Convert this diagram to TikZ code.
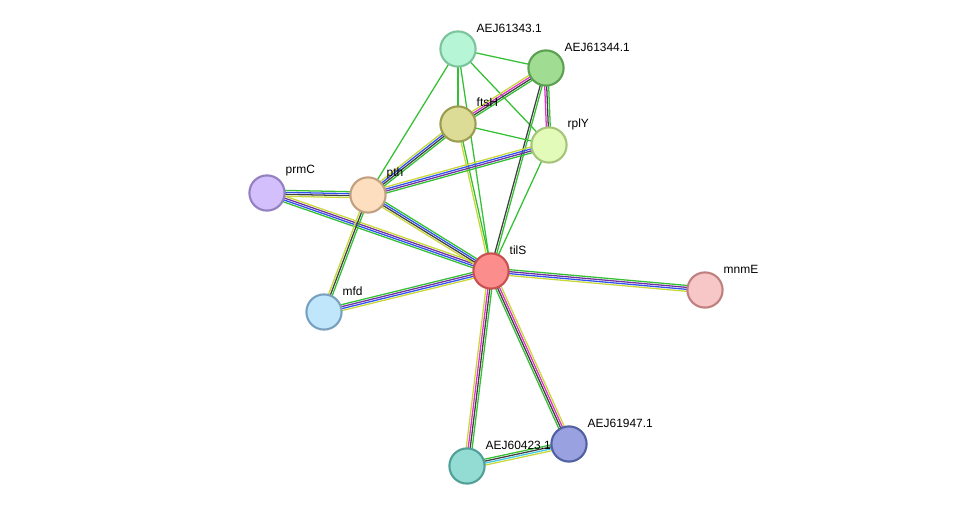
\documentclass[tikz,border=0pt]{standalone}
\usepackage{fontspec}
\setmainfont{Liberation Sans}
\usetikzlibrary{calc,backgrounds}
\definecolor{sgreen}{HTML}{33C033}
\definecolor{syellow}{HTML}{C8D838}
\definecolor{sblue}{HTML}{3050F0}
\definecolor{spurple}{HTML}{7030A0}
\definecolor{smag}{HTML}{E030D0}
\definecolor{sdark}{HTML}{404040}
\definecolor{scyan}{HTML}{40C8E8}
% fill / border of the proteins
\definecolor{f43}{HTML}{B6F5D5}\definecolor{b43}{HTML}{7CC49B}
\definecolor{f44}{HTML}{A0DD93}\definecolor{b44}{HTML}{5AA050}
\definecolor{fftsH}{HTML}{DCDC96}\definecolor{bftsH}{HTML}{9C9C50}
\definecolor{frplY}{HTML}{E3FBB8}\definecolor{brplY}{HTML}{A6C37A}
\definecolor{fprmC}{HTML}{D2BFFB}\definecolor{bprmC}{HTML}{9280C0}
\definecolor{fpth}{HTML}{FDDFC0}\definecolor{bpth}{HTML}{C0A080}
\definecolor{ftilS}{HTML}{FC8D8D}\definecolor{btilS}{HTML}{C85050}
\definecolor{fmnmE}{HTML}{F6C7C6}\definecolor{bmnmE}{HTML}{C08080}
\definecolor{fmfd}{HTML}{BFE6FB}\definecolor{bmfd}{HTML}{7AA0C0}
\definecolor{f947}{HTML}{99A1E0}\definecolor{b947}{HTML}{5060A0}
\definecolor{f423}{HTML}{93DCD3}\definecolor{b423}{HTML}{50A098}
\tikzset{
  prot/.style={circle, draw=b#1, fill=f#1, line width=1.5pt, minimum size=0.88cm, inner sep=0pt},
  lbl/.style={font=\fontsize{8.5}{10}\selectfont, inner sep=1pt}
}
% several parallel lines between two nodes
\newcommand\lnk[4]{%
  \foreach[count=\i] \c in {#4}{%
    \pgfmathsetmacro\off{(\i-(#3+1)/2)*1.4}
    \draw[\c, line width=0.9pt] ($(#1)!\off pt!90:(#2)$) -- ($(#2)!\off pt!-90:(#1)$);
  }}
\begin{document}
\begin{tikzpicture}[x=0.025cm, y=-0.025cm]
    \useasboundingbox (0,0) rectangle (976,512);
    % proteins
    \node[prot=43] (a43) at (458,49) {};
    \node[prot=44] (a44) at (546,68) {};
    \node[prot=ftsH] (ftsH) at (458,124) {};
    \node[prot=rplY] (rplY) at (549,145) {};
    \node[prot=prmC] (prmC) at (267,193) {};
    \node[prot=pth] (pth) at (368,195) {};
    \node[prot=tilS] (tilS) at (491,271) {};
    \node[prot=mnmE] (mnmE) at (705,290) {};
    \node[prot=mfd] (mfd) at (324,312) {};
    \node[prot=947] (a947) at (569,444) {};
    \node[prot=423] (a423) at (467,466) {};

    % labels
    \node[lbl, anchor=west] (t43) at (475,28) {AEJ61343.1};
    \node[lbl, anchor=west] (t44) at (563,47) {AEJ61344.1};
    \node[lbl, anchor=west] (tftsH) at (475,102) {ftsH};
    \node[lbl, anchor=west] (trplY) at (566,124) {rplY};
    \node[lbl, anchor=west] (tprmC) at (284,171) {prmC};
    \node[lbl, anchor=west] (tpth) at (385,173) {pth};
    \node[lbl, anchor=west] (ttilS) at (508,250) {tilS};
    \node[lbl, anchor=west] (tmnmE) at (722,269) {mnmE};
    \node[lbl, anchor=west] (tmfd) at (341,291) {mfd};
    \node[lbl, anchor=west] (t947) at (586,423) {AEJ61947.1};
    \node[lbl, anchor=west] (t423) at (484,445) {AEJ60423.1};

    % interactions
    \begin{pgfonlayer}{background}
    \lnk{a43}{a44}{1}{sgreen}
    \lnk{a43}{ftsH}{1}{sgreen}
    \lnk{a43}{rplY}{1}{sgreen}
    \lnk{a43}{pth}{1}{sgreen}
    \lnk{a43}{tilS}{1}{sgreen}
    \lnk{a44}{ftsH}{4}{syellow,smag,sdark,sgreen}
    \lnk{a44}{rplY}{3}{smag,sdark,sgreen}
    \lnk{a44}{tilS}{2}{sdark,sgreen}
    \lnk{ftsH}{rplY}{1}{sgreen}
    \lnk{ftsH}{pth}{4}{syellow,sblue,sdark,sgreen}
    \lnk{ftsH}{tilS}{2}{syellow,sgreen}
    \lnk{rplY}{pth}{4}{syellow,sblue,spurple,sgreen}
    \lnk{rplY}{tilS}{1}{sgreen}
    \lnk{prmC}{pth}{4}{syellow,sdark,sblue,sgreen}
    \lnk{prmC}{tilS}{4}{sgreen,sblue,spurple,syellow}
    \lnk{pth}{tilS}{4}{syellow,sdark,sblue,sgreen}
    \lnk{pth}{mfd}{3}{syellow,sdark,sgreen}
    \lnk{mfd}{tilS}{4}{syellow,sblue,spurple,sgreen}
    \lnk{tilS}{mnmE}{4}{syellow,sblue,spurple,sgreen}
    \lnk{tilS}{a947}{4}{sgreen,sdark,smag,syellow}
    \lnk{tilS}{a423}{4}{syellow,smag,sdark,sgreen}
    \lnk{a423}{a947}{4}{syellow,scyan,sdark,sgreen}
    \end{pgfonlayer}
\end{tikzpicture}
\end{document}
